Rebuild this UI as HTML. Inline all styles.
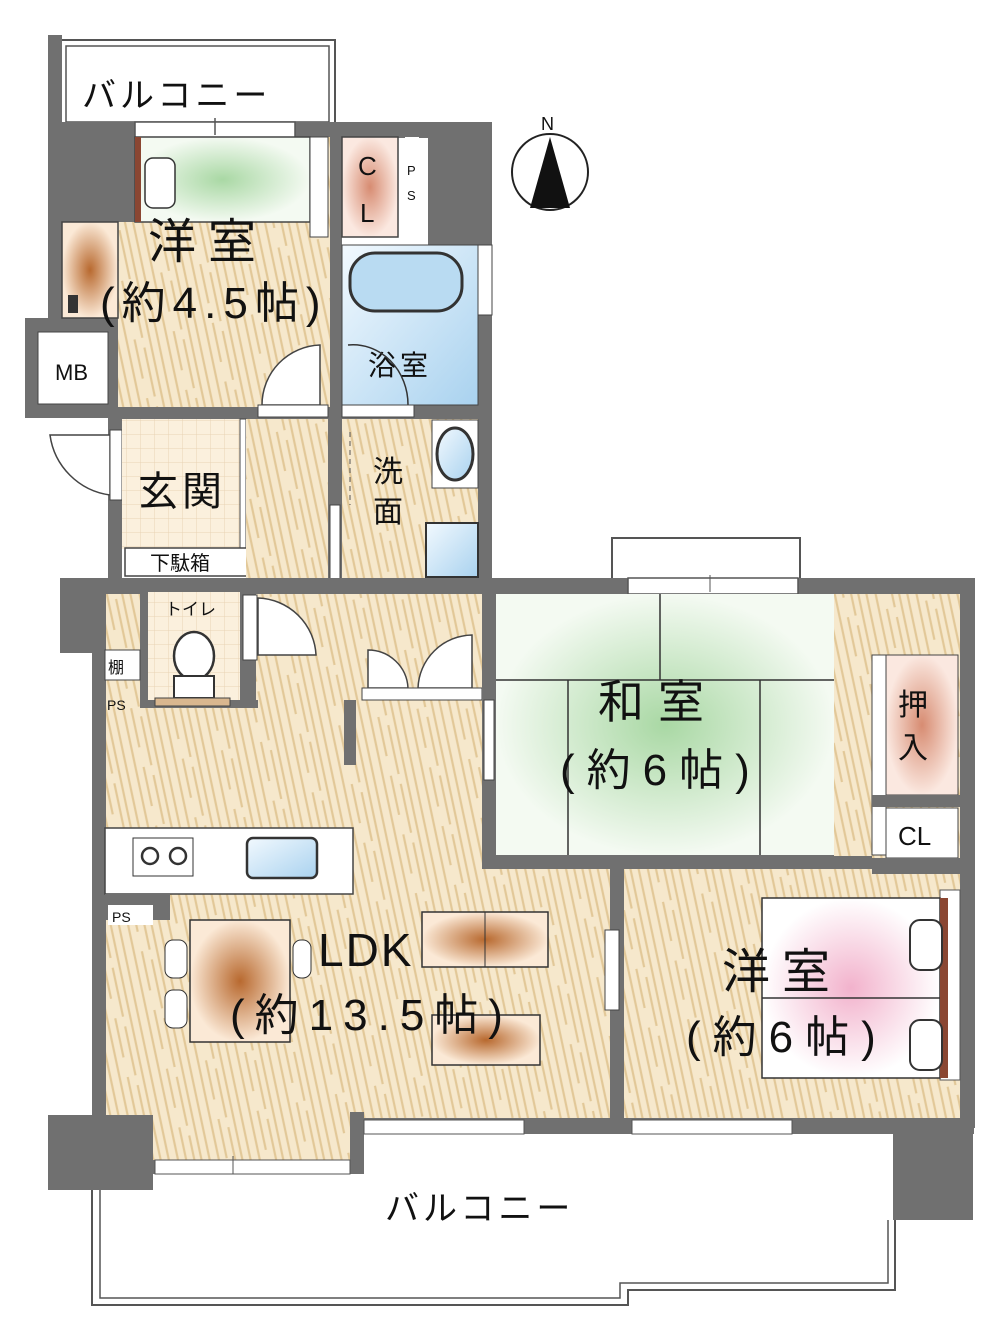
<!DOCTYPE html>
<html><head><meta charset="utf-8"><style>
html,body{margin:0;padding:0;background:#fff;}
svg{display:block}
text{font-family:"Liberation Sans","Noto Sans CJK JP",sans-serif;fill:#111}
</style></head><body>
<svg width="1000" height="1330" viewBox="0 0 1000 1330" xmlns="http://www.w3.org/2000/svg">
<defs>
<pattern id="wood" width="40" height="60" patternUnits="userSpaceOnUse" patternTransform="rotate(-12)">
<rect width="40" height="60" fill="#f6e8cc"/>
<path d="M4 0v60M13 0v60M21 0v40M29 10v50M36 0v60" stroke="#e2c898" stroke-width="2.2"/>
</pattern>
<pattern id="tile" width="14" height="14" patternUnits="userSpaceOnUse">
<rect width="14" height="14" fill="#fbf0dd"/><path d="M0 0h14M0 0v14" stroke="#e8d3b5" stroke-width="1"/>
</pattern>
<radialGradient id="green"><stop offset="0" stop-color="#a9d8a4"/><stop offset="1" stop-color="#f4faf2"/></radialGradient>
<radialGradient id="orange"><stop offset="0" stop-color="#b8692f"/><stop offset="1" stop-color="#fbe9d6"/></radialGradient>
<radialGradient id="pink"><stop offset="0" stop-color="#f2b2cc"/><stop offset="1" stop-color="#fff"/></radialGradient>
<linearGradient id="blue" x1="0" y1="0" x2="1" y2="1"><stop offset="0" stop-color="#f2f9fe"/><stop offset="1" stop-color="#a9d2ef"/></linearGradient>
<radialGradient id="cl"><stop offset="0" stop-color="#d78c72"/><stop offset="1" stop-color="#fbe8e0"/></radialGradient>
</defs>

<!-- top balcony -->
<rect x="60" y="40" width="275" height="85" fill="#fff" stroke="#555" stroke-width="2"/>
<rect x="66" y="46" width="263" height="76" fill="none" stroke="#555" stroke-width="1.5"/>
<text x="82" y="107" font-size="34" letter-spacing="4">バルコニー</text>

<!-- upper block walls -->
<rect x="48" y="35" width="14" height="290" fill="#707070"/>
<rect x="48" y="122" width="444" height="16" fill="#707070"/>
<rect x="60" y="137" width="75" height="86" fill="#707070"/>
<rect x="478" y="122" width="14" height="470" fill="#707070"/>
<rect x="25" y="318" width="95" height="100" fill="#707070"/>
<rect x="108" y="318" width="14" height="262" fill="#707070"/>
<rect x="328" y="137" width="14" height="445" fill="#707070"/>
<rect x="108" y="405" width="380" height="14" fill="#707070"/>
<rect x="135" y="122" width="160" height="16" fill="#fff" stroke="#555" stroke-width="1.5"/>
<line x1="215" y1="118" x2="215" y2="135" stroke="#555" stroke-width="1.5"/>

<!-- 洋室4.5 -->
<rect x="118" y="222" width="212" height="185" fill="url(#wood)"/>
<rect x="310" y="137" width="20" height="90" fill="url(#wood)"/>
<rect x="135" y="137" width="175" height="85" fill="url(#green)" stroke="#444" stroke-width="1.5"/>
<rect x="135" y="137" width="6" height="85" fill="#8a4632"/>
<rect x="145" y="158" width="30" height="50" rx="8" fill="#fff" stroke="#333" stroke-width="1.5"/>
<rect x="62" y="222" width="56" height="96" fill="url(#orange)" stroke="#444" stroke-width="1.5"/>
<rect x="68" y="295" width="10" height="18" fill="#333"/>
<rect x="310" y="137" width="18" height="100" fill="#fff" stroke="#444"/>
<rect x="342" y="137" width="56" height="100" fill="url(#cl)" stroke="#444" stroke-width="1.5"/>
<text x="358" y="175" font-size="26">C</text><text x="360" y="222" font-size="26">L</text>
<rect x="405" y="137" width="14" height="70" fill="#fff"/>
<text x="407" y="175" font-size="13">P</text><text x="407" y="200" font-size="13">S</text>
<rect x="428" y="137" width="50" height="108" fill="#707070"/>
<text x="148" y="258" font-size="48" letter-spacing="12">洋室</text>
<text x="100" y="318" font-size="44" letter-spacing="7">(約4.5帖)</text>
<path d="M320 345 A60 60 0 0 0 262 405 L320 405Z" fill="#fff" stroke="#444" stroke-width="1.5"/>
<rect x="258" y="405" width="70" height="12" fill="#fff" stroke="#444"/>

<!-- MB -->
<rect x="38" y="332" width="70" height="72" fill="#fff" stroke="#444"/>
<text x="55" y="380" font-size="22">MB</text>
<path d="M50 435 A70 70 0 0 0 110 495 L110 435Z" fill="#fff" stroke="#444" stroke-width="1.5"/>
<rect x="110" y="430" width="12" height="70" fill="#fff" stroke="#444"/>

<!-- 玄関 -->
<rect x="122" y="419" width="123" height="130" fill="url(#tile)"/>
<rect x="240" y="419" width="6" height="130" fill="#fff" stroke="#444"/>
<text x="138" y="505" font-size="40" letter-spacing="4">玄関</text>
<rect x="125" y="548" width="126" height="28" fill="#fff" stroke="#444" stroke-width="1.5"/>
<text x="150" y="570" font-size="20">下駄箱</text>
<rect x="246" y="419" width="82" height="160" fill="url(#wood)"/>

<!-- bath -->
<rect x="342" y="245" width="136" height="160" fill="url(#blue)" stroke="#444"/>
<rect x="350" y="253" width="112" height="58" rx="25" fill="#b9dbf2" stroke="#333" stroke-width="3"/>
<rect x="478" y="245" width="14" height="70" fill="#fff" stroke="#444"/>
<text x="368" y="375" font-size="28" letter-spacing="4">浴室</text>
<path d="M348 345 A55 60 0 0 1 408 405" fill="none" stroke="#333" stroke-width="1.5"/>
<rect x="342" y="405" width="72" height="12" fill="#fff" stroke="#444"/>
<rect x="342" y="419" width="136" height="160" fill="url(#wood)"/>
<rect x="432" y="420" width="46" height="68" fill="#fff" stroke="#444"/>
<ellipse cx="455" cy="454" rx="18" ry="26" fill="url(#blue)" stroke="#333" stroke-width="3"/>
<rect x="426" y="523" width="52" height="54" fill="url(#blue)" stroke="#333" stroke-width="2"/>
<rect x="330" y="505" width="10" height="75" fill="#fff" stroke="#444"/>
<line x1="350" y1="432" x2="350" y2="505" stroke="#555" stroke-dasharray="5,4"/>
<text x="373" y="482" font-size="30">洗</text><text x="373" y="522" font-size="30">面</text>

<rect x="612" y="538" width="188" height="42" fill="#fff" stroke="#555" stroke-width="2"/>

<!-- lower block -->
<rect x="105" y="592" width="855" height="530" fill="url(#wood)"/>
<rect x="150" y="1110" width="200" height="52" fill="url(#wood)"/>
<rect x="60" y="578" width="915" height="16" fill="#707070"/>
<rect x="628" y="578" width="170" height="16" fill="#fff" stroke="#555" stroke-width="1.5"/>
<line x1="710" y1="575" x2="710" y2="592" stroke="#555"/>
<rect x="60" y="578" width="45" height="75" fill="#707070"/>
<rect x="92" y="578" width="14" height="540" fill="#707070"/>
<rect x="960" y="578" width="15" height="550" fill="#707070"/>
<rect x="940" y="890" width="20" height="190" fill="#fff" stroke="#555"/>
<!-- toilet -->
<rect x="148" y="592" width="92" height="116" fill="url(#tile)"/>
<rect x="240" y="592" width="16" height="116" fill="#707070"/>
<rect x="140" y="592" width="8" height="116" fill="#707070"/>
<rect x="148" y="700" width="110" height="8" fill="#707070"/>
<ellipse cx="194" cy="656" rx="20" ry="24" fill="#fff" stroke="#333" stroke-width="2.5"/>
<rect x="174" y="676" width="40" height="22" fill="#fff" stroke="#333" stroke-width="2"/>
<rect x="155" y="698" width="75" height="8" fill="#d9b78f" stroke="#444"/>
<text x="165" y="615" font-size="17">トイレ</text>
<path d="M258 598 A60 60 0 0 1 316 655 L258 655Z" fill="#fff" stroke="#444" stroke-width="1.5"/>
<rect x="243" y="595" width="14" height="65" fill="#fff" stroke="#444"/>
<rect x="105" y="650" width="35" height="30" fill="#fff" stroke="#444"/>
<text x="108" y="673" font-size="16">棚</text>
<text x="107" y="710" font-size="14">PS</text>
<path d="M368 688 L368 650 A40 40 0 0 1 408 688Z M472 688 L472 635 A55 55 0 0 0 418 688Z" fill="#fff" stroke="#444" stroke-width="1.5"/>
<rect x="362" y="688" width="120" height="12" fill="#fff" stroke="#444"/>
<rect x="344" y="700" width="12" height="65" fill="#707070"/>

<!-- 和室 -->
<rect x="482" y="592" width="14" height="270" fill="#707070"/>
<rect x="496" y="594" width="338" height="262" fill="url(#green)"/>
<path d="M496 680H834 M660 594V680 M568 680V856 M760 680V856" stroke="#333" stroke-width="1.5" fill="none"/>
<rect x="482" y="855" width="390" height="14" fill="#707070"/>
<rect x="834" y="594" width="48" height="262" fill="url(#wood)"/>
<rect x="484" y="700" width="10" height="80" fill="#fff" stroke="#444"/>
<text x="598" y="718" font-size="46" letter-spacing="14">和室</text>
<text x="560" y="785" font-size="44" letter-spacing="12">(約6帖)</text>
<rect x="872" y="655" width="14" height="200" fill="#fff" stroke="#444"/>
<rect x="886" y="655" width="72" height="140" fill="url(#cl)" stroke="#444"/>
<text x="898" y="715" font-size="30">押</text><text x="898" y="758" font-size="30">入</text>
<rect x="872" y="795" width="88" height="12" fill="#707070"/>
<rect x="886" y="808" width="72" height="50" fill="#fff" stroke="#444"/>
<text x="898" y="845" font-size="26">CL</text>
<rect x="872" y="858" width="88" height="16" fill="#707070"/>

<!-- 洋室6 -->
<rect x="610" y="868" width="14" height="255" fill="#707070"/>
<rect x="605" y="930" width="14" height="80" fill="#fff" stroke="#444"/>
<rect x="762" y="898" width="178" height="180" fill="url(#pink)" stroke="#333" stroke-width="1.5"/>
<line x1="762" y1="998" x2="940" y2="998" stroke="#333" stroke-width="1.5"/>
<rect x="940" y="898" width="8" height="180" fill="#8a4632"/>
<rect x="910" y="920" width="32" height="50" rx="10" fill="#fff" stroke="#333" stroke-width="2"/>
<rect x="910" y="1020" width="32" height="50" rx="10" fill="#fff" stroke="#333" stroke-width="2"/>
<text x="722" y="988" font-size="48" letter-spacing="12">洋室</text>
<text x="686" y="1052" font-size="44" letter-spacing="12">(約6帖)</text>

<!-- kitchen -->
<rect x="105" y="828" width="248" height="66" fill="#fff" stroke="#444" stroke-width="1.5"/>
<rect x="133" y="838" width="60" height="38" fill="#fff" stroke="#333"/>
<circle cx="150" cy="856" r="8" fill="none" stroke="#333" stroke-width="2.5"/>
<circle cx="178" cy="856" r="8" fill="none" stroke="#333" stroke-width="2.5"/>
<rect x="247" y="838" width="70" height="40" rx="6" fill="url(#blue)" stroke="#333" stroke-width="2.5"/>
<rect x="105" y="894" width="65" height="26" fill="#707070"/>
<rect x="108" y="905" width="45" height="20" fill="#fff"/>
<text x="112" y="922" font-size="14">PS</text>
<rect x="190" y="920" width="100" height="122" fill="url(#orange)" stroke="#333" stroke-width="1.5"/>
<rect x="165" y="940" width="22" height="38" rx="8" fill="#fff" stroke="#333"/>
<rect x="165" y="990" width="22" height="38" rx="8" fill="#fff" stroke="#333"/>
<rect x="293" y="940" width="18" height="38" rx="8" fill="#fff" stroke="#333"/>
<rect x="422" y="912" width="126" height="55" fill="url(#orange)" stroke="#333" stroke-width="1.5"/>
<line x1="485" y1="912" x2="485" y2="967" stroke="#333"/>
<rect x="432" y="1015" width="108" height="50" fill="url(#orange)" stroke="#333" stroke-width="1.5"/>
<text x="318" y="966" font-size="46" letter-spacing="2">LDK</text>
<text x="230" y="1030" font-size="44" letter-spacing="10">(約13.5帖)</text>

<!-- bottom walls -->
<rect x="350" y="1112" width="14" height="50" fill="#707070"/>
<rect x="350" y="1118" width="624" height="16" fill="#707070"/>
<rect x="364" y="1120" width="160" height="14" fill="#fff" stroke="#555"/>
<rect x="632" y="1120" width="160" height="14" fill="#fff" stroke="#555"/>
<rect x="152" y="1160" width="212" height="14" fill="#707070"/>
<rect x="155" y="1160" width="195" height="14" fill="#fff" stroke="#555"/>
<line x1="233" y1="1156" x2="233" y2="1174" stroke="#555"/>
<rect x="48" y="1115" width="105" height="75" fill="#707070"/>
<rect x="893" y="1125" width="80" height="95" fill="#707070"/>

<!-- bottom balcony -->
<path d="M92 1190 V1305 H628 V1290 H895 V1220" fill="none" stroke="#555" stroke-width="2"/>
<path d="M100 1190 V1298 H620 V1283 H888 V1220" fill="none" stroke="#555" stroke-width="1.5"/>
<text x="385" y="1220" font-size="34" letter-spacing="4">バルコニー</text>

<!-- compass -->
<circle cx="550" cy="172" r="38" fill="#fff" stroke="#222" stroke-width="2"/>
<path d="M550 137 L530 208 L570 208Z" fill="#111"/>
<text x="541" y="130" font-size="18">N</text>
</svg>
</body></html>
